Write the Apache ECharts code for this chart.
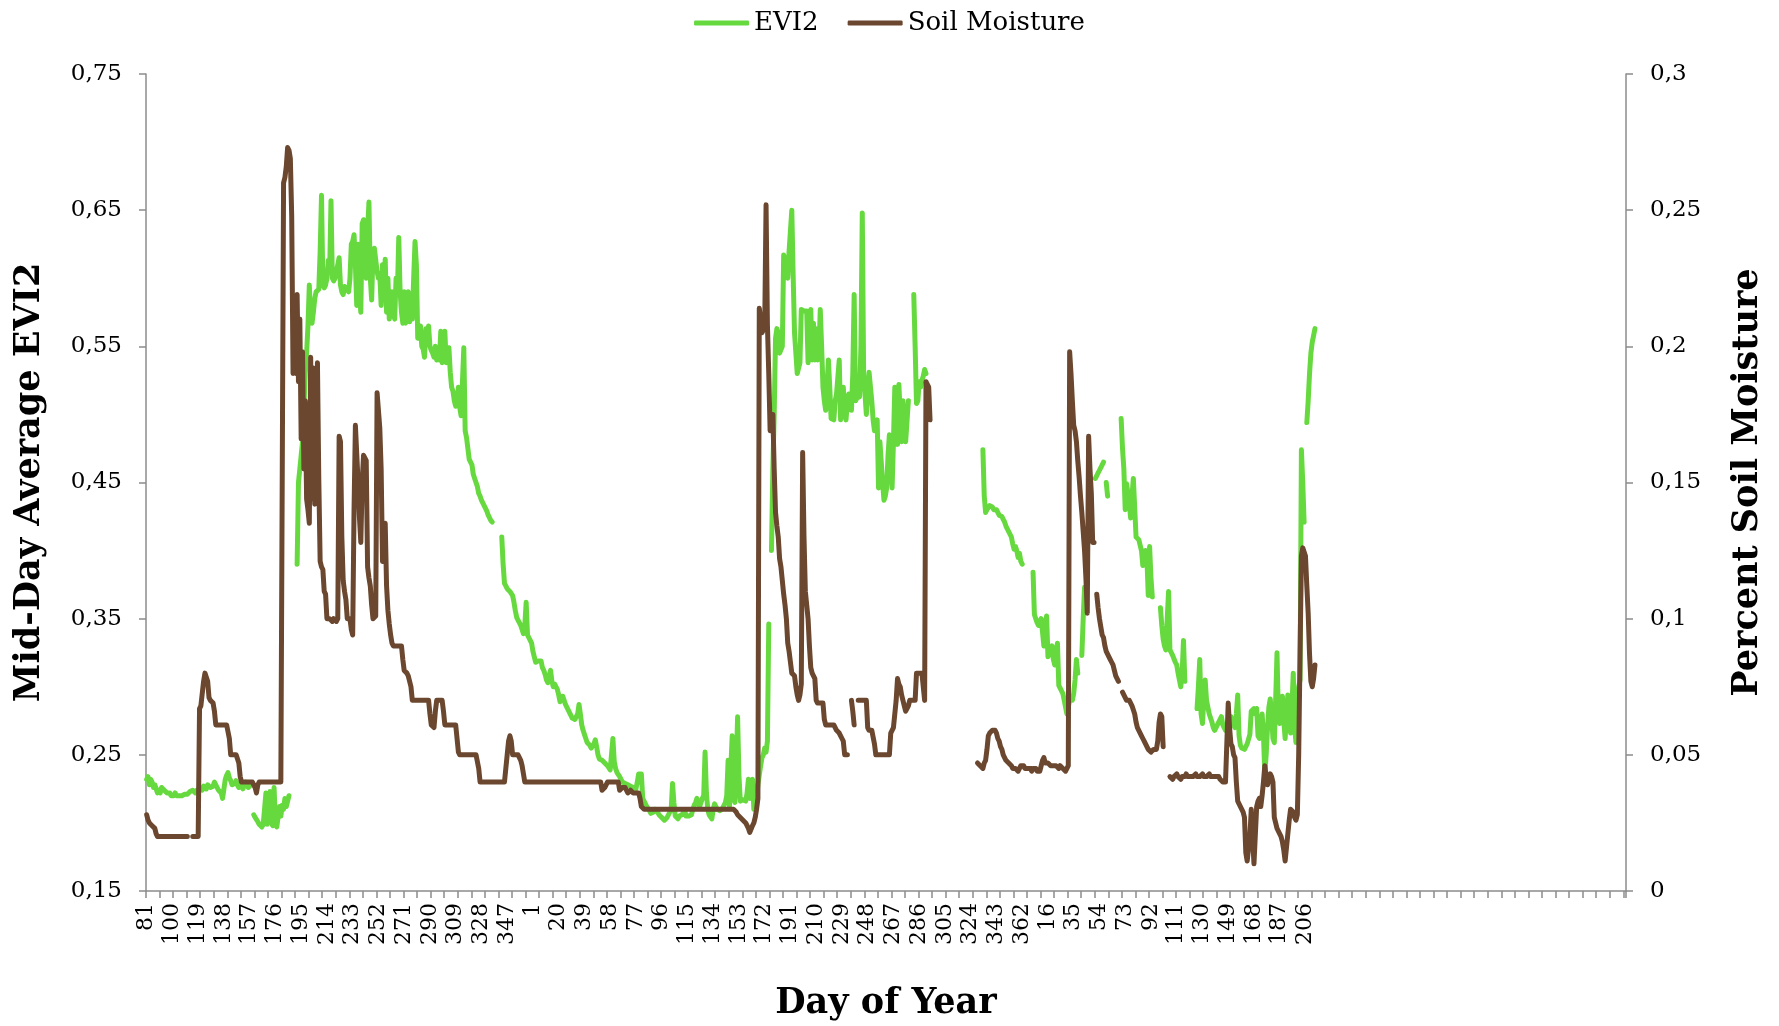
<!DOCTYPE html>
<html>
<head>
<meta charset="utf-8">
<title>EVI2 / Soil Moisture</title>
<script src="https://cdn.jsdelivr.net/npm/echarts@6/dist/echarts.min.js"></script>
<style>
html, body { margin: 0; padding: 0; background: #fff; }
#chart { width: 1779px; height: 1026px; }
</style>
</head>
<body>
<div id="chart"></div>
<script>
// EVI2, day 81..365 of the first year
var evi2Year1 = [
	0.232,0.234,0.228,0.232,0.23,0.226,0.228,0.225,0.222,0.224,
	0.222,0.226,0.227,0.224,0.223,0.222,0.221,0.222,0.22,0.219,
	0.22,0.222,0.22,0.219,0.22,0.221,0.22,0.22,0.221,0.22,
	0.221,0.222,0.223,0.222,0.224,0.223,0.222,0.224,0.223,0.225,
	0.226,0.224,0.227,0.226,0.225,0.228,0.229,0.226,0.225,0.227,
	0.23,0.229,0.226,0.224,0.225,0.222,0.218,0.225,0.232,0.235,
	0.237,0.233,0.231,0.228,0.227,0.229,0.231,0.228,0.226,0.229,
	0.227,0.225,0.228,0.23,0.229,0.226,0.225,0.228,null,0.206,
	0.204,0.203,0.201,0.199,0.198,0.197,0.199,0.198,0.222,0.199,
	0.21,0.223,0.2,0.198,0.226,0.2,0.197,0.198,0.212,0.205,
	0.213,0.21,0.218,0.212,0.216,0.22,null,null,null,null,
	null,0.39,0.45,0.46,0.47,0.48,0.505,0.53,0.545,0.565,
	0.595,0.57,0.567,0.575,0.585,0.59,0.59,0.592,0.62,0.661,
	0.595,0.593,0.595,0.6,0.613,0.605,0.657,0.6,0.598,0.6,
	0.605,0.61,0.615,0.595,0.59,0.588,0.594,0.595,0.592,0.59,
	0.6,0.625,0.627,0.632,0.61,0.58,0.625,0.59,0.575,0.64,
	0.643,0.615,0.6,0.635,0.656,0.6,0.584,0.62,0.622,0.622,
	0.605,0.6,0.603,0.58,0.61,0.585,0.614,0.575,0.6,0.57,
	0.577,0.59,0.575,0.57,0.6,0.59,0.63,0.59,0.575,0.567,
	0.59,0.567,0.575,0.59,0.568,0.583,0.57,0.6,0.627,0.61,
	0.556,0.56,0.565,0.55,0.548,0.542,0.563,0.553,0.565,0.55,
	0.547,0.545,0.542,0.55,0.54,0.545,0.54,0.561,0.538,0.545,
	0.561,0.538,0.545,0.549,0.531,0.52,0.517,0.51,0.506,0.51,
	0.52,0.505,0.499,0.5,0.549,0.488,0.483,0.475,0.467,0.465,
	0.463,0.456,0.453,0.452,0.447,0.442,0.44,0.437,0.435,0.433,
	0.431,0.429,0.426,0.424,0.422,0.421,null,null,null,null,
	null,null,0.41,0.39,0.376,0.374,0.372,0.371,0.37,0.369,
	0.367,0.362,0.356,0.351,0.349,0.348,0.345,0.342,0.339,0.345,
	0.362,0.338,0.337,0.334,0.332
];
// EVI2, day 1..365 of the second year
var evi2Year2 = [
	0.326,0.322,0.318,0.318,0.319,0.318,0.319,0.314,0.312,0.309,
	0.305,0.303,0.308,0.312,0.304,0.3,0.302,0.303,0.298,0.294,
	0.289,0.291,0.293,0.29,0.287,0.285,0.284,0.281,0.279,0.277,
	0.277,0.276,0.275,0.28,0.287,0.28,0.272,0.268,0.265,0.262,
	0.259,0.258,0.257,0.255,0.256,0.258,0.261,0.256,0.25,0.247,
	0.246,0.246,0.245,0.244,0.243,0.242,0.241,0.239,0.24,0.262,
	0.245,0.24,0.237,0.236,0.234,0.232,0.23,0.23,0.229,0.229,
	0.228,0.228,0.227,0.226,0.226,0.225,0.225,0.23,0.236,0.236,
	0.236,0.218,0.216,0.214,0.212,0.211,0.209,0.207,0.206,0.208,
	0.21,0.209,0.208,0.206,0.205,0.204,0.203,0.202,0.202,0.204,
	0.206,0.205,0.21,0.229,0.215,0.205,0.204,0.203,0.205,0.204,
	0.206,0.207,0.209,0.205,0.204,0.205,0.204,0.206,0.21,0.213,
	0.215,0.218,0.214,0.212,0.215,0.218,0.22,0.252,0.222,0.21,
	0.206,0.205,0.203,0.21,0.214,0.212,0.21,0.21,0.209,0.21,
	0.211,0.212,0.215,0.22,0.246,0.212,0.24,0.264,0.218,0.215,
	0.24,0.278,0.235,0.216,0.215,0.217,0.218,0.216,0.222,0.232,
	0.218,0.228,0.232,0.21,0.215,0.22,0.228,0.235,0.242,0.248,
	0.25,0.255,0.252,0.26,0.346,null,0.4,0.46,0.5,0.556,
	0.563,0.56,0.545,0.545,0.55,0.617,0.618,0.607,0.6,0.62,
	0.635,0.65,0.602,0.56,0.545,0.53,0.529,0.538,0.577,0.577,
	0.576,0.575,0.576,0.538,0.55,0.577,0.54,0.567,0.54,0.563,
	0.54,0.545,0.577,0.55,0.52,0.51,0.503,0.503,0.54,0.52,
	0.497,0.496,0.496,0.51,0.515,0.515,0.54,0.496,0.515,0.52,
	0.5,0.496,0.51,0.515,0.512,0.503,0.53,0.588,0.51,0.512,
	0.513,0.513,0.55,0.648,0.53,0.531,0.5,0.499,0.531,0.531,
	0.51,0.496,0.488,0.492,0.496,0.446,0.48,0.481,0.45,0.437,
	0.44,0.446,0.47,0.485,0.485,0.446,0.48,0.52,0.5,0.478,
	0.522,0.5,0.48,0.51,0.49,0.48,0.495,0.51,null,null,
	null,0.588,0.55,0.508,0.51,0.524,0.52,0.525,0.528,0.533,
	0.53,null,null,null,null,null,null,null,null,null,
	null,null,null,null,null,null,null,null,null,null,
	null,null,null,null,null,null,null,null,null,null,
	null,null,null,null,null,null,null,null,null,null,
	null,null,0.474,0.44,0.428,0.43,0.431,0.433,0.433,0.432,
	0.43,0.431,0.43,0.428,0.426,0.425,0.425,0.423,0.421,0.418,
	0.416,0.415,0.412,0.41,0.405,0.401,0.403,0.4,0.395,0.398,
	0.392,0.39,null,null,null
];
// EVI2, day 1..213 of the third year
var evi2Year3 = [
	null,null,null,null,0.384,0.353,0.35,0.347,0.345,0.348,
	0.35,0.34,0.33,0.345,0.352,0.322,0.325,0.328,0.33,0.32,
	0.316,0.325,0.332,0.301,0.3,0.297,0.295,0.29,0.285,0.28,
	0.28,0.29,0.29,0.29,0.295,0.305,0.32,0.31,null,null,
	0.323,0.35,0.373,null,null,null,null,null,null,null,
	0.453,0.455,0.457,0.459,0.461,0.463,0.465,null,0.45,0.44,
	null,null,null,null,null,null,null,null,null,0.497,
	0.475,0.46,0.43,0.449,0.449,0.435,0.424,0.44,0.453,0.453,
	0.41,0.41,0.408,0.408,0.4,0.389,0.39,0.4,0.395,0.367,
	0.403,0.38,0.366,null,null,null,null,null,0.358,0.345,
	0.335,0.33,0.327,0.35,0.37,0.327,0.325,0.323,0.322,0.318,
	0.316,0.31,0.305,0.3,0.31,0.334,0.304,null,null,null,
	null,null,null,null,null,0.284,0.3,0.32,0.28,0.273,
	0.29,0.305,0.29,0.285,0.28,0.277,0.274,0.27,0.268,0.27,
	0.272,0.274,0.276,0.278,0.272,0.27,0.268,0.272,0.275,0.276,
	0.278,0.275,0.272,0.27,0.28,0.294,0.264,0.257,0.255,0.254,
	0.254,0.256,0.258,0.259,0.265,0.282,0.283,0.284,0.28,0.284,
	0.264,0.262,0.272,0.28,0.265,0.236,0.25,0.27,0.285,0.291,
	0.28,0.262,0.259,0.29,0.325,0.28,0.273,0.285,0.293,0.275,
	0.262,0.28,0.294,0.275,0.266,0.285,0.31,0.27,0.259,0.28,
	0.3,0.305,0.474,0.45,0.421,null,0.494,0.51,0.53,0.545,
	0.553,0.558,0.563
];
// Soil moisture, day 81..365 of the first year
var soilYear1 = [
	0.028,0.026,0.025,0.025,0.024,0.024,0.023,0.021,0.02,0.02,
	0.02,0.02,0.02,0.02,0.02,0.02,0.02,0.02,0.02,0.02,
	0.02,0.02,0.02,0.02,0.02,0.02,0.02,0.02,0.02,0.02,
	0.02,null,null,null,0.02,0.02,0.02,0.02,0.02,0.067,
	0.068,0.068,0.077,0.08,0.08,0.077,0.071,0.07,0.07,0.069,
	0.066,0.061,0.061,0.061,0.061,0.061,0.061,0.061,0.061,0.061,
	0.061,0.056,0.05,0.05,0.05,0.05,0.05,0.05,0.047,0.042,
	0.04,0.04,0.04,0.04,0.04,0.04,0.04,0.04,0.04,0.04,
	0.038,0.036,0.039,0.04,0.04,0.04,0.04,0.04,0.04,0.04,
	0.04,0.04,0.04,0.04,0.04,0.04,0.04,0.04,0.04,0.04,
	0.04,0.26,0.262,0.266,0.273,0.272,0.269,0.248,0.19,0.217,
	0.19,0.219,0.187,0.21,0.166,0.198,0.155,0.18,0.144,0.14,
	0.135,0.196,0.144,0.192,0.142,0.17,0.194,0.151,0.121,0.119,
	0.118,0.11,0.109,0.1,0.1,0.1,0.1,0.099,0.1,0.1,
	0.099,0.1,0.167,0.165,0.13,0.114,0.11,0.107,0.1,0.1,
	0.1,0.096,0.094,0.14,0.171,0.171,0.15,0.137,0.128,0.15,
	0.16,0.16,0.158,0.119,0.115,0.112,0.105,0.1,0.1,0.101,
	0.183,0.183,0.17,0.155,0.121,0.128,0.135,0.112,0.103,0.098,
	0.094,0.091,0.09,0.09,0.09,0.09,0.09,0.09,0.09,0.085,
	0.081,0.081,0.08,0.079,0.079,0.075,0.07,0.07,0.07,0.07,
	0.07,0.07,0.07,0.07,0.07,0.07,0.07,0.07,0.07,0.065,
	0.061,0.061,0.06,0.066,0.07,0.07,0.07,0.07,0.07,0.066,
	0.061,0.061,0.061,0.061,0.061,0.061,0.061,0.061,0.061,0.061,
	0.051,0.05,0.05,0.05,0.05,0.05,0.05,0.05,0.05,0.05,
	0.05,0.05,0.05,0.05,0.05,0.045,0.04,0.04,0.04,0.04,
	0.04,0.04,0.04,0.04,0.04,0.04,0.04,0.04,0.04,0.04,
	0.04,0.04,0.04,0.04,0.04,0.04,0.05,0.055,0.057,0.055,
	0.05,0.05,0.05,0.05,0.05,0.05,0.048,0.046,0.043,0.04,
	0.04,0.04,0.04,0.04,0.04
];
// Soil moisture, day 1..365 of the second year
var soilYear2 = [
	0.04,0.04,0.04,0.04,0.04,0.04,0.04,0.04,0.04,0.04,
	0.04,0.04,0.04,0.04,0.04,0.04,0.04,0.04,0.04,0.04,
	0.04,0.04,0.04,0.04,0.04,0.04,0.04,0.04,0.04,0.04,
	0.04,0.04,0.04,0.04,0.04,0.04,0.04,0.04,0.04,0.04,
	0.04,0.04,0.04,0.04,0.04,0.04,0.04,0.04,0.04,0.04,
	0.04,0.037,0.037,0.038,0.039,0.04,0.04,0.04,0.04,0.04,
	0.04,0.04,0.04,0.04,0.037,0.037,0.038,0.038,0.038,0.037,
	0.036,0.036,0.037,0.037,0.036,0.036,0.036,0.036,0.036,0.034,
	0.031,0.031,0.03,0.03,0.03,0.03,0.03,0.03,0.03,0.03,
	0.03,0.03,0.03,0.03,0.03,0.03,0.03,0.03,0.03,0.03,
	0.03,0.03,0.03,0.03,0.03,0.03,0.03,0.03,0.03,0.03,
	0.03,0.03,0.03,0.03,0.03,0.03,0.03,0.03,0.03,0.03,
	0.03,0.03,0.03,0.03,0.03,0.03,0.03,0.03,0.03,0.03,
	0.03,0.03,0.03,0.03,0.03,0.03,0.03,0.03,0.03,0.03,
	0.03,0.03,0.03,0.03,0.03,0.03,0.03,0.03,0.03,0.03,
	0.029,0.028,0.028,0.027,0.027,0.026,0.026,0.025,0.025,0.023,
	0.0215,0.022,0.024,0.025,0.027,0.03,0.034,0.214,0.21,0.205,
	0.206,0.207,0.252,0.208,0.19,0.169,0.172,0.175,0.155,0.139,
	0.134,0.13,0.122,0.119,0.114,0.109,0.105,0.1,0.091,0.088,
	0.084,0.08,0.08,0.079,0.075,0.072,0.07,0.072,0.076,0.161,
	0.13,0.11,0.105,0.1,0.09,0.082,0.08,0.079,0.078,0.07,
	0.069,0.069,0.069,0.069,0.069,0.063,0.061,0.061,0.061,0.061,
	0.061,0.061,0.061,0.06,0.059,0.059,0.058,0.057,0.056,0.055,
	0.05,0.05,0.05,null,null,0.07,0.066,0.061,null,null,
	0.07,0.07,0.07,0.07,0.07,0.07,0.07,0.06,0.059,0.059,
	0.059,0.059,0.054,0.05,0.05,0.05,0.05,0.05,0.05,0.05,
	0.05,0.05,0.05,0.05,0.058,0.059,0.06,0.06,0.07,0.078,
	0.076,0.075,0.072,0.07,0.068,0.066,0.066,0.068,0.07,0.07,
	0.07,0.07,0.07,0.08,0.08,0.08,0.08,0.08,0.08,0.07,
	0.187,0.186,0.185,0.173,null,null,null,null,null,null,
	null,null,null,null,null,null,null,null,null,null,
	null,null,null,null,null,null,null,null,null,null,
	null,null,null,null,null,null,null,null,0.047,0.047,
	0.046,0.046,0.045,0.047,0.048,0.052,0.057,0.058,0.058,0.059,
	0.059,0.059,0.058,0.056,0.055,0.053,0.052,0.05,0.05,0.048,
	0.048,0.047,0.047,0.046,0.045,0.045,0.045,0.045,0.044,0.045,
	0.046,0.046,0.046,0.045,0.045
];
// Soil moisture, day 1..213 of the third year
var soilYear3 = [
	0.045,0.045,0.045,0.044,0.045,0.045,0.045,0.044,0.044,0.044,
	0.044,0.048,0.049,0.047,0.047,0.047,0.047,0.046,0.046,0.046,
	0.046,0.046,0.046,0.045,0.046,0.046,0.045,0.045,0.044,0.044,
	0.046,0.198,0.19,0.18,0.171,0.169,0.165,0.158,0.152,0.145,
	0.139,0.132,0.125,0.115,0.102,0.167,0.155,0.146,0.128,0.128,
	null,0.109,0.104,0.1,0.097,0.094,0.093,0.09,0.088,0.087,
	0.086,0.085,0.084,0.083,0.081,0.079,0.078,0.077,null,null,
	0.073,0.072,0.071,0.07,0.07,0.07,0.069,0.068,0.068,0.065,
	0.062,0.06,0.059,0.058,0.057,0.056,0.055,0.054,0.053,0.052,
	0.052,0.051,0.051,0.052,0.052,0.052,0.055,0.062,0.065,0.064,
	0.053,null,null,null,null,0.042,0.042,0.041,0.042,0.042,
	0.043,0.042,0.042,0.041,0.042,0.042,0.042,0.043,0.042,0.042,
	0.042,0.042,0.042,0.042,0.043,0.042,0.042,0.042,0.042,0.043,
	0.042,0.042,0.042,0.042,0.043,0.042,0.042,0.042,0.042,0.042,
	0.042,0.042,0.041,0.041,0.04,0.04,0.04,0.04,0.069,0.06,
	0.054,0.053,0.05,0.049,0.04,0.033,0.032,0.031,0.031,0.029,
	0.027,0.014,0.011,0.011,0.02,0.03,0.02,0.01,0.01,0.031,
	0.033,0.034,0.031,0.035,0.04,0.046,0.042,0.039,0.041,0.043,
	0.042,0.04,0.027,0.025,0.023,0.022,0.021,0.02,0.018,0.015,
	0.011,0.016,0.021,0.026,0.03,0.03,0.029,0.027,0.026,0.028,
	0.05,0.087,0.123,0.126,0.126,0.123,0.112,0.102,0.087,0.077,
	0.075,0.078,0.083
];

var seriesNames = ['EVI2', 'Soil Moisture'];
var seriesColors = ['#66d93f', '#6a472e'];
var evi2Ticks = [0.15, 0.75, 0.1];   // min, max, step
var soilTicks = [0, 0.3, 0.05];
var axisSlots = 1092;                 // the sheet's axis runs on past the last reading

var FONT = 'DejaVu Serif';
var AXIS_GREY = '#8c8c8c';

// day-of-year labels: 81..365, 1..365, 1..213, then empty slots
function buildDays() {
	var days = [];
	var d;
	for (d = 81; d <= 365; d++) days.push(String(d));
	for (d = 1; d <= 365; d++) days.push(String(d));
	for (d = 1; d <= 213; d++) days.push(String(d));
	while (days.length < axisSlots) days.push('');
	return days;
}

function commaLabel(digits) {
	return function (v) {
		return (+v.toFixed(digits)).toString().replace('.', ',');
	};
}

function titleStyle() {
	return { fontFamily: FONT, fontSize: 35, fontWeight: 'bold', color: '#000' };
}

function initChart() {
	var chart = echarts.init(document.getElementById('chart'), null, { renderer: 'canvas' });
	var evi2 = evi2Year1.concat(evi2Year2, evi2Year3);
	var soil = soilYear1.concat(soilYear2, soilYear3);

	var option = {
		animation: false,
		backgroundColor: '#ffffff',
		textStyle: { fontFamily: FONT, color: '#000' },
		legend: {
			top: 5,
			left: 'center',
			icon: 'roundRect',
			itemWidth: 55,
			itemHeight: 5,
			itemGap: 29,
			textStyle: { fontFamily: FONT, fontSize: 26, color: '#000' },
			data: seriesNames
		},
		grid: { left: 146, right: 153, top: 74, bottom: 135 },
		xAxis: {
			type: 'category',
			data: buildDays(),
			boundaryGap: true,
			name: 'Day of Year',
			nameLocation: 'middle',
			nameGap: 95,
			nameTextStyle: titleStyle(),
			axisLine: { show: true, lineStyle: { color: AXIS_GREY, width: 1.5 } },
			axisTick: { show: true, interval: 9, length: 7, lineStyle: { color: AXIS_GREY, width: 1.5 } },
			axisLabel: { interval: 18, rotate: 90, fontFamily: FONT, fontSize: 22, color: '#000', margin: 12 },
			splitLine: { show: false }
		},
		yAxis: [{
			type: 'value',
			position: 'left',
			min: evi2Ticks[0],
			max: evi2Ticks[1],
			interval: evi2Ticks[2],
			name: 'Mid-Day Average EVI2',
			nameLocation: 'middle',
			nameRotate: 90,
			nameGap: 99,
			nameTextStyle: titleStyle(),
			axisLine: { show: true, lineStyle: { color: AXIS_GREY, width: 1.5 } },
			axisTick: { show: true, length: 7, lineStyle: { color: AXIS_GREY, width: 1.5 } },
			axisLabel: { fontFamily: FONT, fontSize: 23, color: '#000', margin: 24, formatter: commaLabel(2) },
			splitLine: { show: false }
		}, {
			type: 'value',
			position: 'right',
			min: soilTicks[0],
			max: soilTicks[1],
			interval: soilTicks[2],
			name: 'Percent Soil Moisture',
			nameLocation: 'middle',
			nameRotate: 90,
			nameGap: 104,
			nameTextStyle: titleStyle(),
			axisLine: { show: true, lineStyle: { color: AXIS_GREY, width: 1.5 } },
			axisTick: { show: true, length: 7, lineStyle: { color: AXIS_GREY, width: 1.5 } },
			axisLabel: { fontFamily: FONT, fontSize: 23, color: '#000', margin: 24, formatter: commaLabel(2) },
			splitLine: { show: false }
		}],
		series: [{
			name: seriesNames[0],
			type: 'line',
			yAxisIndex: 0,
			data: evi2,
			symbol: 'none',
			connectNulls: false,
			color: seriesColors[0],
			lineStyle: { width: 5, color: seriesColors[0], cap: 'round', join: 'round' }
		}, {
			name: seriesNames[1],
			type: 'line',
			yAxisIndex: 1,
			data: soil,
			symbol: 'none',
			connectNulls: false,
			color: seriesColors[1],
			lineStyle: { width: 5, color: seriesColors[1], cap: 'round', join: 'round' }
		}]
	};
	chart.setOption(option, true);
}

initChart();
</script>
</body>
</html>
